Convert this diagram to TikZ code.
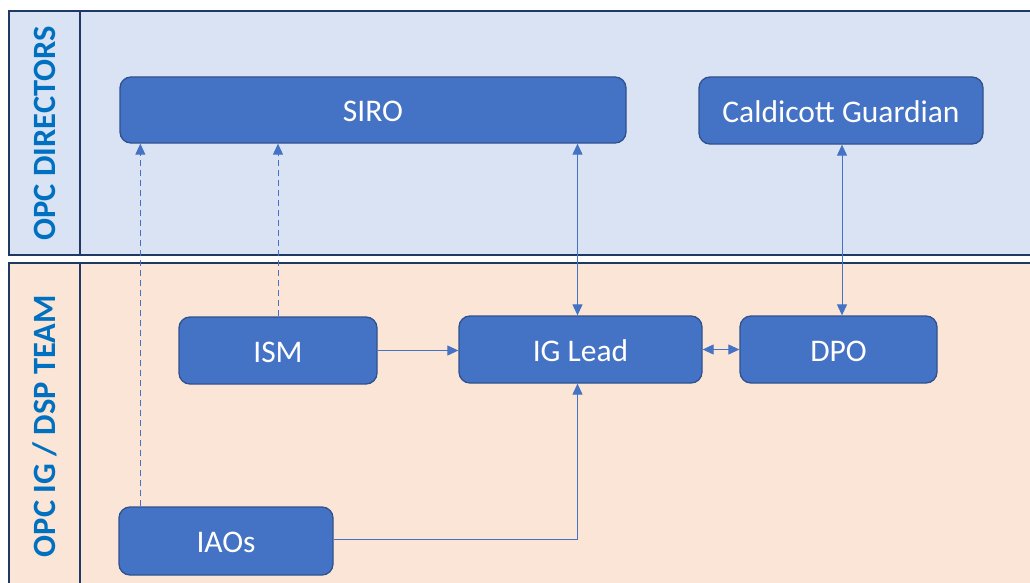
\documentclass[tikz,border=0pt]{standalone}
\usepackage{fontspec}
\setmainfont{Carlito}
\usetikzlibrary{arrows.meta,calc}
\definecolor{boxfill}{HTML}{4472C4}
\definecolor{boxline}{HTML}{2F528F}
\definecolor{lanetop}{HTML}{DAE3F3}
\definecolor{lanebot}{HTML}{FBE5D6}
\definecolor{laneline}{HTML}{1F3864}
\definecolor{labelblue}{HTML}{0070C0}
\tikzset{
  rolebox/.style={draw=boxline, line width=1.3pt, fill=boxfill, rounded corners=11pt,
    text=white, font=\fontsize{31.5}{36}\selectfont, inner sep=0pt, anchor=center,
    text height=23.5pt, text depth=0pt},
  lane/.style={draw=laneline, line width=2pt},
  lanelabel/.style={text=labelblue, font=\bfseries\fontsize{32.5}{36}\selectfont, rotate=90, inner sep=0pt},
  conn/.style={draw=boxfill, line width=1pt},
  tip/.style={-{Triangle[length=11pt,width=10pt]}},
  tips/.style={{Triangle[length=11pt,width=10pt]}-{Triangle[length=11pt,width=10pt]}},
  dashline/.style={dash pattern=on 6pt off 4pt}
}
\begin{document}
\begin{tikzpicture}[x=1pt,y=-1pt]
\useasboundingbox (0,0) rectangle (1030,583);
\clip (0,0) rectangle (1030,583);
\fill[white] (0,0) rectangle (1030,583);
% lanes
\draw[lane, fill=lanetop] (9,11) rectangle (1045,255);
\draw[lane] (80,11) -- (80,255);
\draw[lane, fill=lanebot] (9,263) rectangle (1045,600);
\draw[lane] (80,263) -- (80,600);
\node[lanelabel] (ldir) at (45,133) {OPC DIRECTORS};
\node[lanelabel] (lteam) at (45,426) {OPC IG / DSP TEAM};
% boxes
\node[rolebox, minimum width=506pt, minimum height=66pt] (siro) at (373,110) {SIRO};
\node[rolebox, minimum width=284pt, minimum height=67pt] (cg) at (841,110.5) {Caldicott Guardian};
\node[rolebox, minimum width=198pt, minimum height=67pt] (ism) at (278,350.5) {ISM};
\node[rolebox, minimum width=243pt, minimum height=67pt] (ig) at (580.5,349.5) {IG Lead};
\node[rolebox, minimum width=197pt, minimum height=67pt] (dpo) at (838.5,349.5) {DPO};
\node[rolebox, minimum width=214pt, minimum height=68pt] (iaos) at (226,541) {IAOs};
% connectors
\draw[conn, dashline, tip] ([xshift=22pt]iaos.north west) -- ([xshift=22pt]iaos.north west |- siro.south);
\draw[conn, dashline, tip] (ism.north) -- (ism.north |- siro.south);
\draw[conn, tips] ([xshift=-3pt]ig.north) -- ([xshift=-3pt]ig.north |- siro.south);
\draw[conn, tips] ([xshift=1pt]cg.south) -- ([xshift=1pt]cg.south |- dpo.north);
\draw[conn, tip] (ism.east) -- (ism.east -| ig.west);
\draw[conn, tips] (ig.east) -- (dpo.west);
\draw[conn, tip] ([yshift=2pt]iaos.east) -| ([xshift=-3pt]ig.south);
\end{tikzpicture}
\end{document}
